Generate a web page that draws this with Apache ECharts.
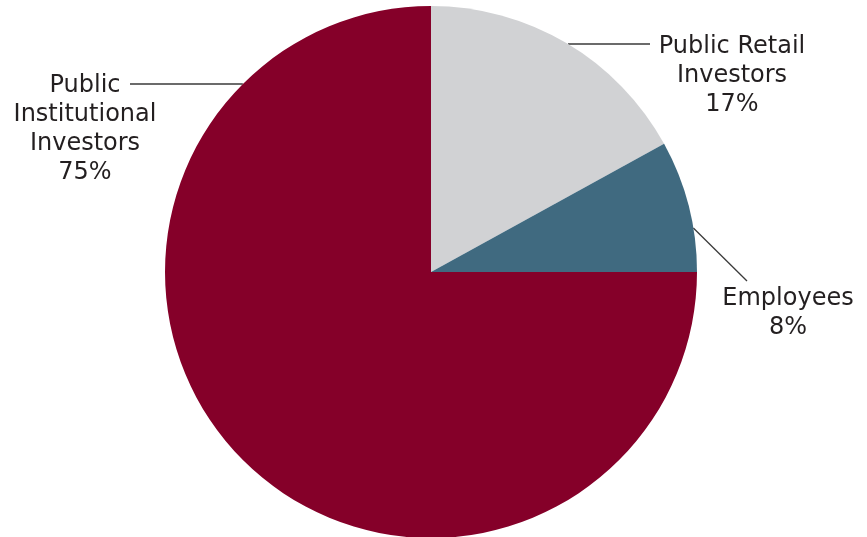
<!DOCTYPE html>
<html>
<head>
<meta charset="utf-8">
<script src="https://cdn.jsdelivr.net/npm/echarts@6/dist/echarts.min.js"></script>
<style>
  html, body { margin: 0; padding: 0; background: #ffffff; }
  #chart { width: 867px; height: 537px; }
</style>
</head>
<body>
<div id="chart"></div>
<script>
// Ownership breakdown
const categories = ['Public Retail\nInvestors', 'Employees', 'Public\nInstitutional\nInvestors'];
const shares = [17, 8, 75];
const colors = ['#d1d2d4', '#406a80', '#850029'];

// Pie geometry
const CX = 431, CY = 272, R = 266;

// Label placement: block centre (x, y) and the y where the leader line meets the rim
const labelSpots = [
  { x: 732, y: 76,  rimY: 44,  side: 1,  endX: 650, endY: 44 },
  { x: 788, y: 313, rimY: 228, side: 1,  endX: 747, endY: 281 },
  { x: 85,  y: 129, rimY: 84,  side: -1, endX: 130, endY: 84 }
];

function rimPoint(spot) {
  const dy = spot.rimY - CY;
  const dx = Math.sqrt(R * R - dy * dy) * spot.side;
  return [CX + dx, spot.rimY];
}

const chart = echarts.init(document.getElementById('chart'));
chart.setOption({
  animation: false,
  backgroundColor: '#ffffff',
  series: [{
    type: 'pie',
    center: [CX, CY],
    radius: R,
    startAngle: 90,
    clockwise: true,
    avoidLabelOverlap: false,
    data: categories.map((name, i) => ({
      name: name,
      value: shares[i],
      itemStyle: { color: colors[i] }
    })),
    itemStyle: { borderWidth: 0 },
    label: {
      show: true,
      position: 'outside',
      formatter: p => p.name + '\n' + p.value + '%',
      fontFamily: 'DejaVu Sans',
      fontSize: 24,
      lineHeight: 29,
      color: '#231f20',
      align: 'center'
    },
    labelLine: {
      show: true,
      length: 10,
      length2: 10,
      lineStyle: { color: '#3a3a3a', width: 1.3 }
    },
    labelLayout: function (params) {
      const spot = labelSpots[params.dataIndex];
      const start = rimPoint(spot);
      const end = [spot.endX, spot.endY];
      return {
        x: spot.x,
        y: spot.y,
        align: 'center',
        verticalAlign: 'middle',
        labelLinePoints: [start, end, end]
      };
    },
    emphasis: { disabled: true }
  }]
});
</script>
</body>
</html>
